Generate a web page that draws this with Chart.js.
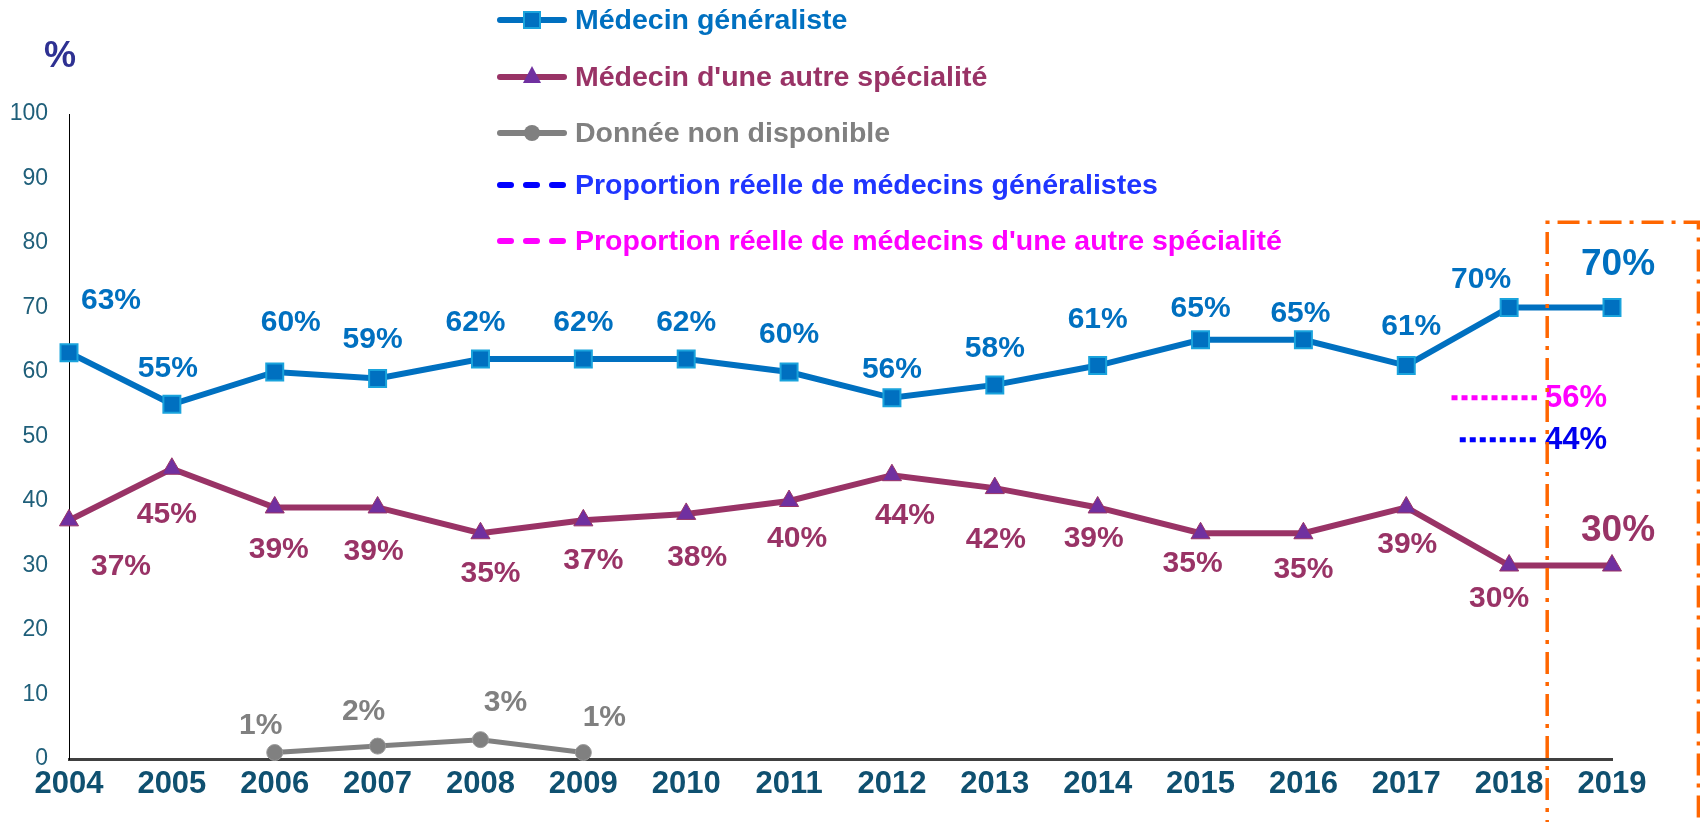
<!DOCTYPE html>
<html>
<head>
<meta charset="utf-8">
<script src="https://cdn.jsdelivr.net/npm/chart.js@4.4.1/dist/chart.umd.min.js"></script>
<style>
  html, body { margin: 0; padding: 0; background: #fff; }
  #wrap { width: 1700px; height: 822px; position: relative; }
</style>
</head>
<body>
<div id="wrap"><canvas id="chart" width="1700" height="822"></canvas></div>
<script>
// data
const years = [2004, 2005, 2006, 2007, 2008, 2009, 2010, 2011, 2012, 2013, 2014, 2015, 2016, 2017, 2018, 2019];
const generaliste = [63, 55, 60, 59, 62, 62, 62, 60, 56, 58, 61, 65, 65, 61, 70, 70];
const autreSpecialite = [37, 45, 39, 39, 35, 37, 38, 40, 44, 42, 39, 35, 35, 39, 30, 30];
const nonDisponible = [null, null, 1, 2, 3, 1, null, null, null, null, null, null, null, null, null, null];

// short dotted markers next to 2018 (x in years, y on the % scale)
const reelleGenX = [2017.52, 2018.27];
const reelleGenY = [49.5, 49.5];
const reelleGenLabel = '44%';
const reelleAutreX = [2017.44, 2018.27];
const reelleAutreY = [56, 56];
const reelleAutreLabel = '56%';

const yTicks = [0, 10, 20, 30, 40, 50, 60, 70, 80, 90, 100];

// label nudges in px (dx, dy from the point)
const genOffsets = [[42,-52],[-4,-36],[16,-49],[-5,-39],[-5,-36],[0,-36],[0,-36],[0,-37],[0,-28],[0,-36],[0,-46],[0,-31],[-3,-26],[5,-39],[-28,-28],[6,-43]];
const autreOffsets = [[52,46],[-5,46],[4,42],[-4,44],[10,40],[10,40],[11,44],[8,38],[13,41],[1,52],[-4,31],[-8,30],[0,36],[1,37],[-10,33],[6,-35]];
const ndOffsets = [null,null,[-14,-27],[-14,-34],[25,-37],[21,-35]];

const FONT = "'Liberation Sans', Arial, sans-serif";
const BLUE = '#0070C0';
const MAROON = '#993366';
const GREY = '#808080';

const toXY = (xs, ys) => xs.map((x, i) => ({ x: x, y: ys[i] }));

const labelsPlugin = {
  id: 'pointLabels',
  afterDatasetsDraw(chart) {
    const ctx = chart.ctx;
    ctx.save();
    ctx.textAlign = 'center';
    ctx.textBaseline = 'middle';
    const put = (dsIndex, values, offsets, color) => {
      const meta = chart.getDatasetMeta(dsIndex);
      values.forEach((v, i) => {
        if (v === null || !offsets[i]) return;
        const pt = meta.data[i];
        const last = i === values.length - 1;
        ctx.font = 'bold ' + (last ? 37 : 30) + 'px ' + FONT;
        ctx.fillStyle = color;
        ctx.fillText(v + '%', pt.x + offsets[i][0], pt.y + offsets[i][1]);
      });
    };
    put(0, generaliste, genOffsets, BLUE);
    put(1, autreSpecialite, autreOffsets, MAROON);
    put(2, nonDisponible, ndOffsets, GREY);

    ctx.textAlign = 'left';
    ctx.font = 'bold 31px ' + FONT;
    let meta = chart.getDatasetMeta(4);
    let pt = meta.data[meta.data.length - 1];
    ctx.fillStyle = '#FF00FF';
    ctx.fillText(reelleAutreLabel, pt.x + 8, pt.y + 1);
    meta = chart.getDatasetMeta(3);
    pt = meta.data[meta.data.length - 1];
    ctx.fillStyle = '#0000EE';
    ctx.fillText(reelleGenLabel, pt.x + 8, pt.y + 1);
    ctx.restore();
  }
};

const legendItems = [
  { text: 'Médecin généraliste', color: BLUE, line: BLUE, marker: 'rect', fill: BLUE, border: '#1AA3DC' },
  { text: "Médecin d'une autre spécialité", color: MAROON, line: MAROON, marker: 'triangle', fill: '#7030A0', border: MAROON },
  { text: 'Donnée non disponible', color: GREY, line: GREY, marker: 'circle', fill: GREY, border: GREY },
  { text: 'Proportion réelle de médecins généralistes', color: '#1F35FF', line: '#0000FF', dash: true },
  { text: "Proportion réelle de médecins d'une autre spécialité", color: '#FF00FF', line: '#FF00FF', dash: true }
];
const legendRows = [20, 77, 133, 185, 241];

const extrasPlugin = {
  id: 'extras',
  afterDraw(chart) {
    const ctx = chart.ctx;
    const xs = chart.scales.x, ys = chart.scales.y;
    ctx.save();

    // orange dash-dot frame around 2019
    const left = xs.getPixelForValue(2018.37);
    const right = xs.getPixelForValue(2019.84);
    const top = ys.getPixelForValue(83.2);
    const bottom = chart.height + 20;
    ctx.strokeStyle = '#FF6600';
    ctx.lineWidth = 3.5;
    ctx.setLineDash([22, 8, 4, 8]);
    ctx.beginPath();
    ctx.moveTo(left, bottom);
    ctx.lineTo(left, top);
    ctx.lineTo(right, top);
    ctx.lineTo(right, bottom);
    ctx.stroke();
    ctx.setLineDash([]);

    // "%" axis title
    ctx.font = 'bold 36px ' + FONT;
    ctx.fillStyle = '#2E3192';
    ctx.textAlign = 'center';
    ctx.textBaseline = 'middle';
    ctx.fillText('%', 60, 57);

    // legend
    const x0 = 497, x1 = 567, tx = 575;
    legendItems.forEach((it, i) => {
      const y = legendRows[i];
      ctx.lineCap = 'round';
      ctx.strokeStyle = it.line;
      ctx.lineWidth = 6;
      if (it.dash) ctx.setLineDash([11, 15]);
      ctx.beginPath();
      ctx.moveTo(x0 + 3, y);
      ctx.lineTo(x1 - 3, y);
      ctx.stroke();
      ctx.setLineDash([]);
      ctx.lineCap = 'butt';
      const cx = (x0 + x1) / 2;
      if (it.marker === 'rect') {
        ctx.fillStyle = it.fill;
        ctx.strokeStyle = it.border;
        ctx.lineWidth = 2;
        ctx.fillRect(cx - 8, y - 8, 16, 16);
        ctx.strokeRect(cx - 8, y - 8, 16, 16);
      } else if (it.marker === 'triangle') {
        ctx.fillStyle = it.fill;
        ctx.beginPath();
        ctx.moveTo(cx, y - 11);
        ctx.lineTo(cx + 9, y + 6);
        ctx.lineTo(cx - 9, y + 6);
        ctx.closePath();
        ctx.fill();
      } else if (it.marker === 'circle') {
        ctx.fillStyle = it.fill;
        ctx.beginPath();
        ctx.arc(cx, y, 8, 0, Math.PI * 2);
        ctx.fill();
      }
      ctx.font = 'bold 28.5px ' + FONT;
      ctx.fillStyle = it.color;
      ctx.textAlign = 'left';
      ctx.textBaseline = 'middle';
      ctx.fillText(it.text, tx, y + 1);
    });
    ctx.restore();
  }
};

const config = {
  type: 'line',
  data: {
    datasets: [
      {
        label: 'Médecin généraliste',
        data: toXY(years, generaliste),
        borderColor: BLUE,
        borderWidth: 6,
        pointStyle: 'rect',
        pointRadius: 12,
        pointBackgroundColor: BLUE,
        pointBorderColor: '#1AA3DC',
        pointBorderWidth: 2,
        clip: false,
      },
      {
        label: "Médecin d'une autre spécialité",
        data: toXY(years, autreSpecialite),
        borderColor: MAROON,
        borderWidth: 6,
        pointStyle: 'triangle',
        pointRadius: 11,
        pointBackgroundColor: '#7030A0',
        pointBorderColor: MAROON,
        pointBorderWidth: 1,
        clip: false,
      },
      {
        label: 'Donnée non disponible',
        data: toXY(years, nonDisponible),
        borderColor: GREY,
        borderWidth: 5,
        pointStyle: 'circle',
        pointRadius: 8,
        pointBackgroundColor: GREY,
        pointBorderColor: '#999999',
        pointBorderWidth: 1,
        spanGaps: false,
        clip: false,
      },
      {
        label: 'Proportion réelle de médecins généralistes',
        data: toXY(reelleGenX, reelleGenY),
        borderColor: '#0000FF',
        borderWidth: 5,
        borderDash: [6, 4],
        pointRadius: 0,
        clip: false,
      },
      {
        label: "Proportion réelle de médecins d'une autre spécialité",
        data: toXY(reelleAutreX, reelleAutreY),
        borderColor: '#FF00FF',
        borderWidth: 5,
        borderDash: [6, 4],
        pointRadius: 0,
        clip: false,
      },
    ]
  },
  options: {
    responsive: false,
    animation: false,
    layout: {
      padding: { top: 114, right: 88, left: 0, bottom: 0 },
    },
    scales: {
      x: {
        type: 'linear',
        min: years[0],
        max: years[years.length - 1],
        grid: { display: false, drawTicks: false },
        border: { display: true, color: '#404040', width: 3 },
        ticks: {
          stepSize: 1,
          autoSkip: false,
          maxRotation: 0,
          padding: 7,
          color: '#0F5070',
          font: { family: FONT, size: 31, weight: 'bold' },
          callback: (v) => String(v),
        },
        afterFit: (scale) => { scale.height = 63; },
      },
      y: {
        min: 0,
        max: 100,
        grid: { display: false, drawTicks: false },
        border: { display: true, color: '#000000', width: 1 },
        afterBuildTicks: (scale) => { scale.ticks = yTicks.map(v => ({ value: v })); },
        ticks: {
          padding: 21,
          color: '#1F5F7A',
          font: { family: FONT, size: 23 },
        },
        afterFit: (scale) => { scale.width = 69; },
      },
    },
    plugins: {
      legend: { display: false },
      tooltip: { enabled: false },
    },
  },
  plugins: [labelsPlugin, extrasPlugin],
};

const chart = new Chart(document.getElementById('chart'), config);
</script>
</body>
</html>
